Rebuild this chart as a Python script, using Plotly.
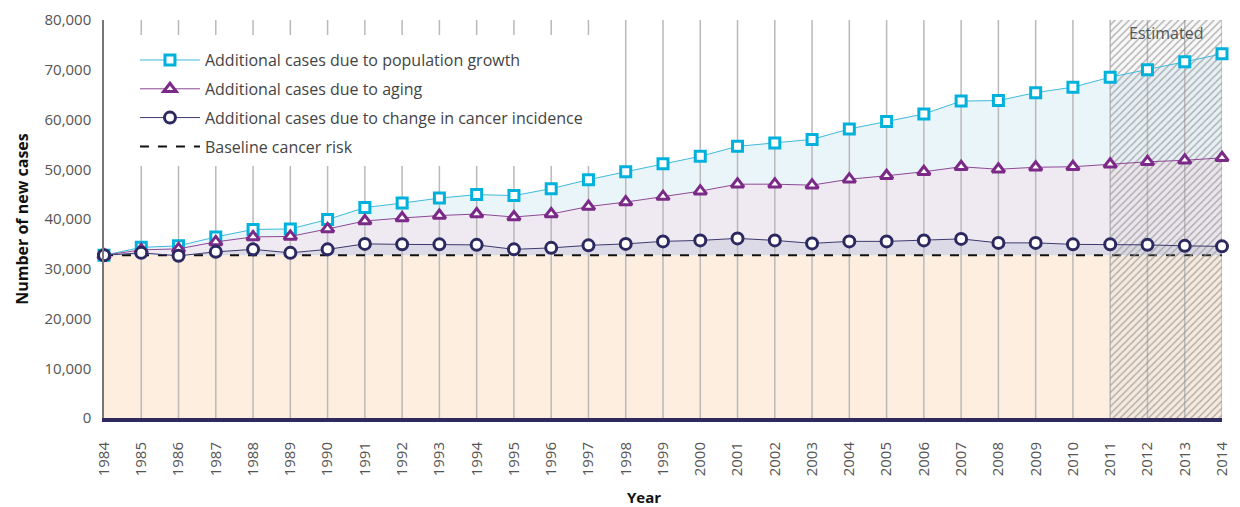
import plotly.graph_objects as go

years = list(range(1984, 2015))
baseline = [32700] * len(years)
incidence = [32700, 33200, 32600, 33400, 33900, 33200, 33900, 35000, 34900, 34900,
             34800, 33900, 34200, 34700, 35000, 35500, 35700, 36100, 35700, 35100,
             35500, 35500, 35700, 36000, 35200, 35200, 34900, 34900, 34800, 34600, 34500]
aging = [32700, 33800, 34000, 35400, 36400, 36500, 38000, 39600, 40200, 40700,
         41000, 40400, 41000, 42500, 43400, 44500, 45600, 47000, 47000, 46800,
         48000, 48700, 49500, 50500, 50000, 50400, 50500, 51000, 51500, 51800, 52300]
population = [32700, 34300, 34600, 36400, 37900, 38000, 39900, 42300, 43200, 44200,
              44900, 44700, 46100, 47900, 49500, 51100, 52600, 54600, 55300, 56000,
              58100, 59600, 61100, 63700, 63800, 65400, 66500, 68500, 70000, 71600, 73200]
y_ticks = list(range(0, 80001, 10000))
est_start, est_end = 2011, 2014
y_max = 80000

FONT = "Open Sans"
C_SQ = "#00b2db"
C_TRI = "#7c2a87"
C_CIR = "#2c2960"

fig = go.Figure()

# stacked fills
fig.add_trace(go.Scatter(x=years, y=baseline, mode="none", fill="tozeroy",
                         fillcolor="#fdeee0", showlegend=False, hoverinfo="skip"))
fig.add_trace(go.Scatter(x=years, y=incidence, mode="none", fill="tonexty",
                         fillcolor="#dcdae6", showlegend=False, hoverinfo="skip"))
fig.add_trace(go.Scatter(x=years, y=aging, mode="none", fill="tonexty",
                         fillcolor="#efe9f1", showlegend=False, hoverinfo="skip"))
fig.add_trace(go.Scatter(x=years, y=population, mode="none", fill="tonexty",
                         fillcolor="#eaf5fa", showlegend=False, hoverinfo="skip"))

# vertical grid lines
gx, gy = [], []
for yr in years[1:]:
    gx += [yr, yr, None]
    gy += [0, y_max, None]
fig.add_trace(go.Scatter(x=gx, y=gy, mode="lines", line=dict(color="#b9b9b9", width=1.5),
                         showlegend=False, hoverinfo="skip", cliponaxis=False))

# baseline dashed
fig.add_trace(go.Scatter(x=years, y=baseline, mode="lines", name="Baseline cancer risk",
                         line=dict(color="#111111", width=2, dash="dash"),
                         legendrank=4, legendgroup="d"))

# estimated hatch
fig.add_trace(go.Scatter(x=[est_start, est_end, est_end, est_start, est_start],
                         y=[0, 0, y_max, y_max, 0], mode="lines", fill="toself",
                         line=dict(width=0, color="rgba(0,0,0,0)"),
                         fillcolor="rgba(200,200,200,0.12)",
                         fillpattern=dict(shape="/", fgcolor="#8f8f8f", fgopacity=0.7,
                                          bgcolor="rgba(200,200,200,0.12)", size=5, solidity=0.28),
                         showlegend=False, hoverinfo="skip"))

fig.add_trace(go.Scatter(x=years, y=population, mode="lines+markers",
                         name="Additional cases due to population growth",
                         line=dict(color="#3fbadb", width=1),
                         marker=dict(symbol="square", size=10, color="white",
                                     line=dict(color=C_SQ, width=3)),
                         cliponaxis=False, legendrank=1, legendgroup="a"))
fig.add_trace(go.Scatter(x=years, y=aging, mode="lines+markers",
                         name="Additional cases due to aging",
                         line=dict(color="#8e4796", width=1),
                         marker=dict(symbol="triangle-up", size=11, color="white",
                                     line=dict(color=C_TRI, width=3)),
                         cliponaxis=False, legendrank=2, legendgroup="b"))
fig.add_trace(go.Scatter(x=years, y=incidence, mode="lines+markers",
                         name="Additional cases due to change in cancer incidence",
                         line=dict(color="#3b386e", width=1),
                         marker=dict(symbol="circle", size=11, color="white",
                                     line=dict(color=C_CIR, width=3)),
                         cliponaxis=False, legendrank=3, legendgroup="c"))

# white panel behind the legend (interrupts the grid lines)
fig.add_shape(type="rect", xref="paper", yref="paper", x0=0.007, x1=0.448,
              y0=0.633, y1=0.962, fillcolor="white", line=dict(width=0), layer="above")

fig.add_annotation(x=(est_start + est_end) / 2, y=y_max, yanchor="top", yshift=0,
                   text="Estimated", showarrow=False,
                   font=dict(family=FONT, size=16, color="#555555"))
fig.add_annotation(xref="paper", yref="paper", x=-0.0735, y=0.5, xanchor="center",
                   yanchor="middle", textangle=-90,
                   text="<b>Number of new cases</b>", showarrow=False,
                   font=dict(family=FONT, size=16, color="#111111"))
fig.add_annotation(xref="paper", yref="paper", x=0.483, y=-0.1985, xanchor="center",
                   yanchor="middle", text="<b>Year</b>", showarrow=False,
                   font=dict(family=FONT, size=15, color="#111111"))

# page body has an 8px margin; compensate so the plot area lands where intended
fig.update_layout(
    width=1232, height=499,
    margin=dict(l=96, r=18, t=12, b=89, autoexpand=False),
    plot_bgcolor="white", paper_bgcolor="white",
    font=dict(family=FONT, size=15, color="#444444"),
    showlegend=True,
    legend=dict(x=0.0277, y=0.942, xanchor="left", yanchor="top",
                bgcolor="rgba(255,255,255,0)", traceorder="grouped", tracegroupgap=5,
                itemwidth=60, font=dict(family=FONT, size=16, color="#444444")),
    xaxis=dict(range=[years[0], years[-1]], tickmode="array", tickvals=years,
               ticktext=[str(y) for y in years], tickangle=-90, automargin=False,
               showgrid=False, zeroline=False, showline=True,
               linecolor="#2e2a5e", linewidth=4, ticks="outside", ticklen=14,
               tickcolor="rgba(0,0,0,0)", tickfont=dict(size=15, color="#555555")),
    yaxis=dict(range=[0, y_max], tickmode="array", tickvals=y_ticks, automargin=False,
               ticktext=[f"{v:,}" for v in y_ticks],
               showgrid=False, zeroline=False, showline=True,
               linecolor="#777777", linewidth=1.5, ticks="outside", ticklen=8,
               tickcolor="rgba(0,0,0,0)", tickfont=dict(size=15, color="#555555")),
)

fig.write_html("out.html")
